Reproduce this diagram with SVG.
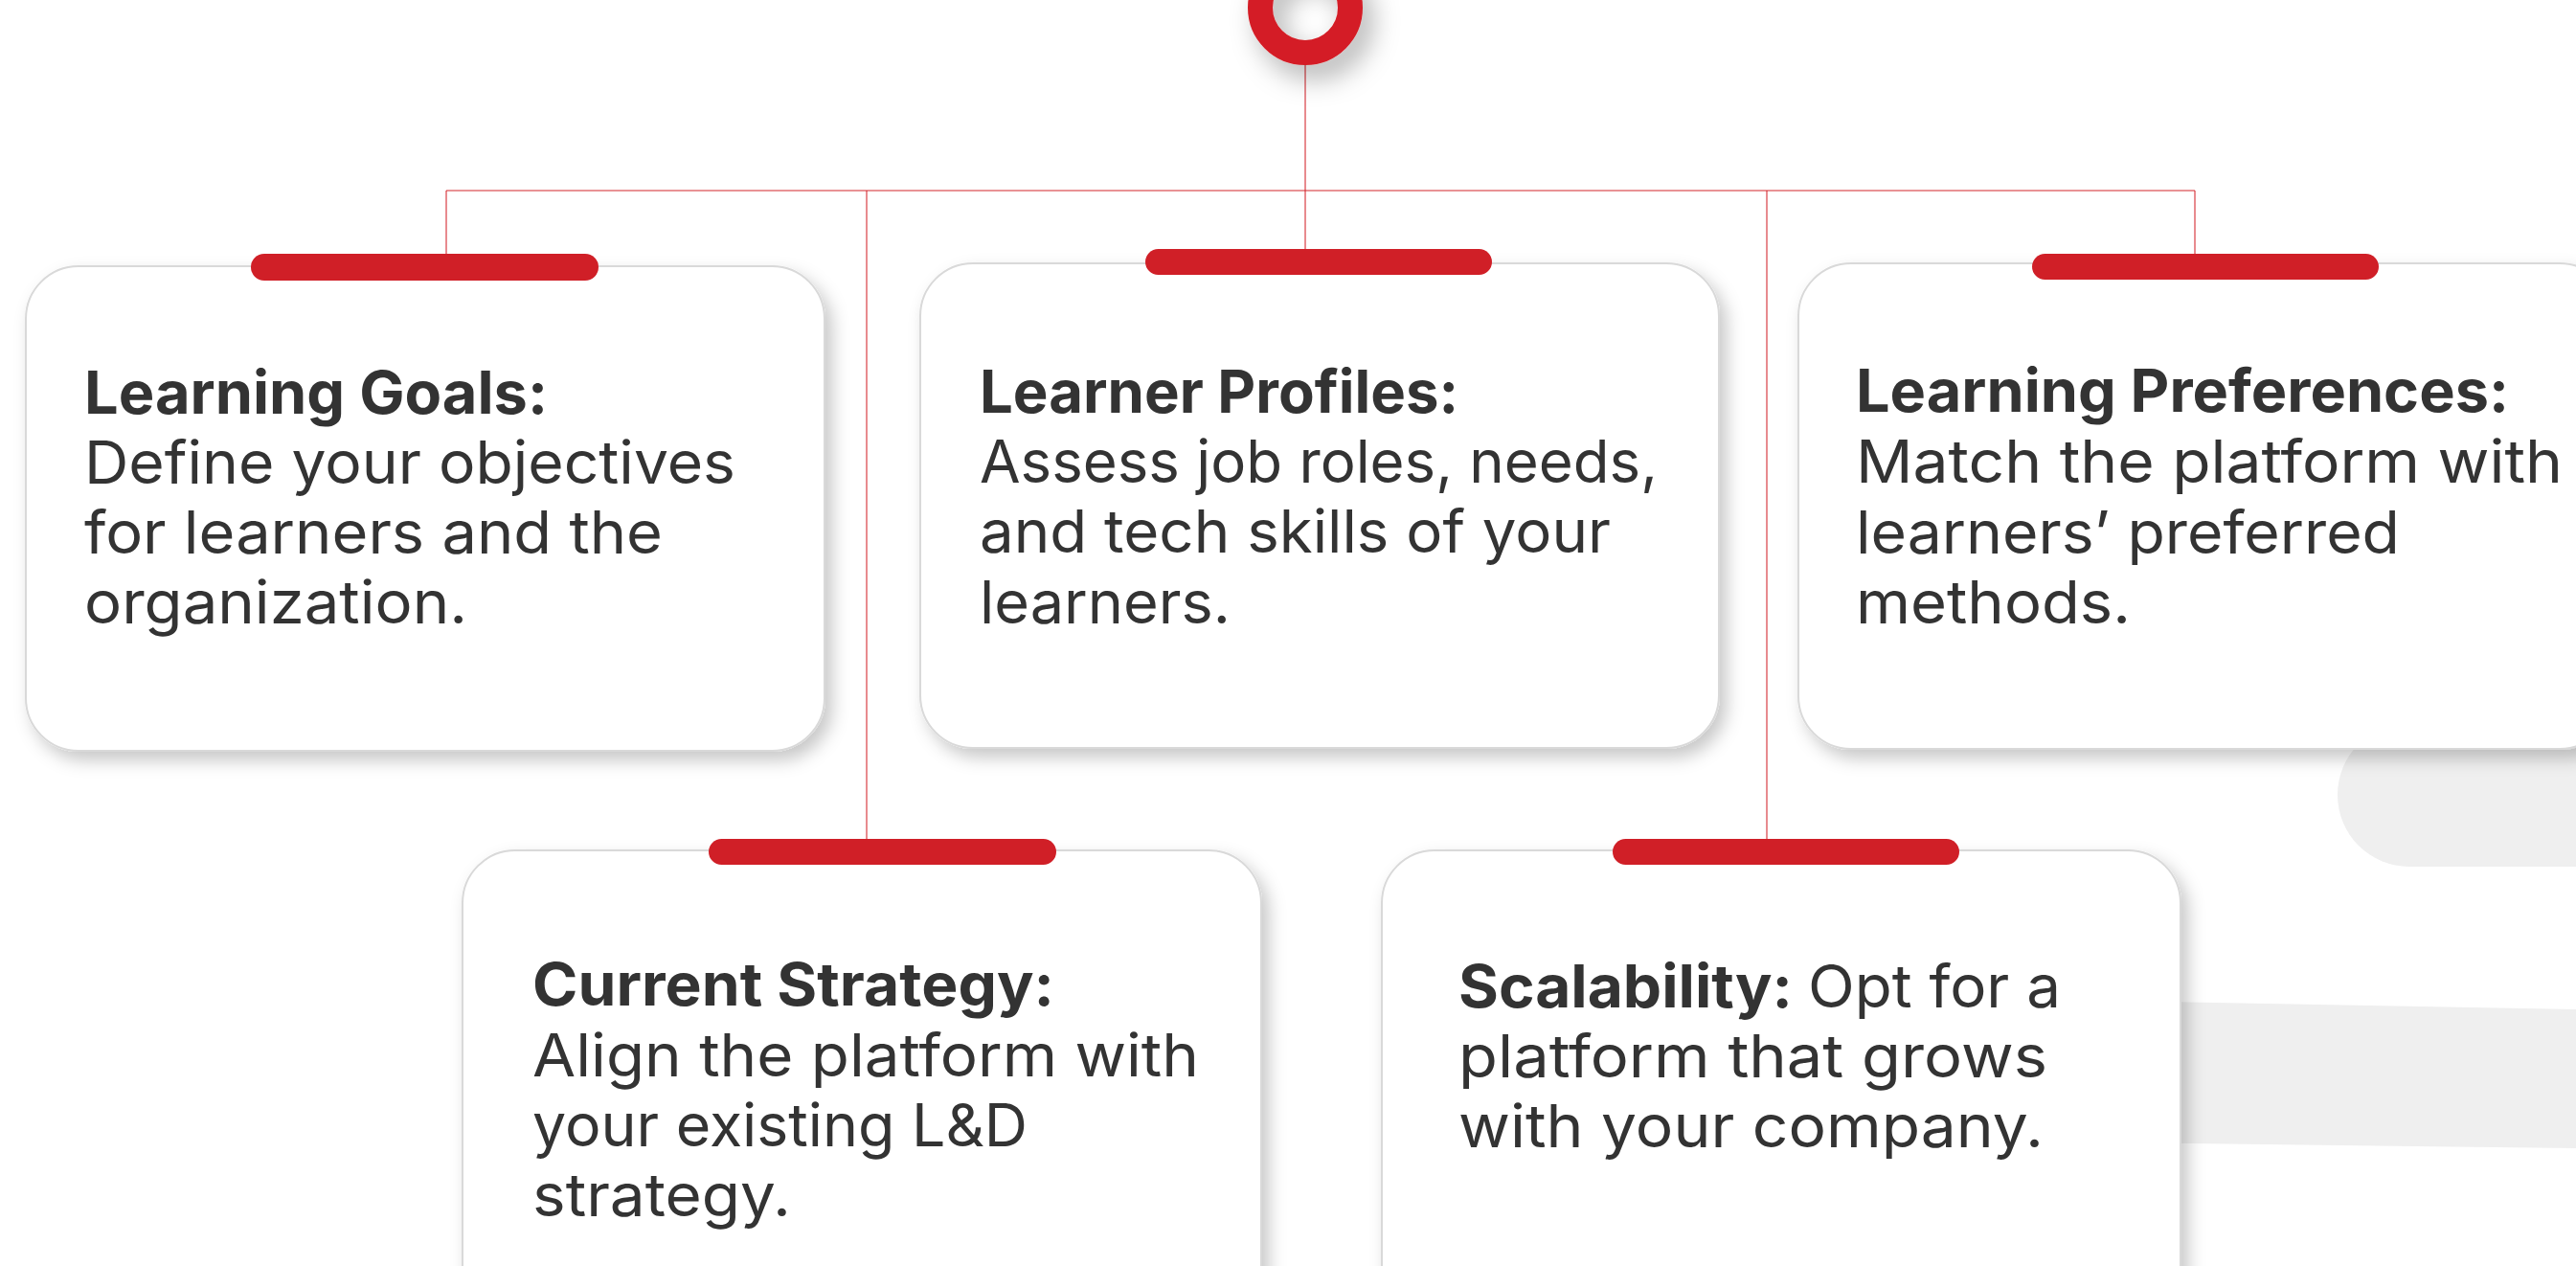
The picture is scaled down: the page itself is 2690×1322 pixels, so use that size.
<svg xmlns="http://www.w3.org/2000/svg" width="2690" height="1322" viewBox="0 0 2690 1322">
<defs>
<filter id="sh" x="-10%" y="-10%" width="125%" height="130%">
<feDropShadow dx="7" dy="9" stdDeviation="9" flood-color="#000" flood-opacity="0.22"/>
</filter>
<filter id="rsh" x="-50%" y="-50%" width="220%" height="220%">
<feDropShadow dx="10" dy="14" stdDeviation="14" flood-color="#000" flood-opacity="0.3"/>
</filter>
<style>
.card{fill:#fff;stroke:#d9d9d9;stroke-width:2;filter:url(#sh)}
.bar{fill:#d01f27}
.ln{stroke:#d31f26;stroke-width:1.6;stroke-opacity:0.65;fill:none}
.t{font-family:Inter,"Liberation Sans",sans-serif;font-size:62px;fill:#333333}
.b{font-weight:700}
.bg{fill:#efefef}
</style>
</defs>
<rect width="2690" height="1322" fill="#ffffff"/>
<g id="background">
<rect class="bg" x="2441" y="755" width="400" height="150" rx="75"/>
<polygon class="bg" points="2200,1045 2690,1054 2690,1199 2200,1193"/>
</g>
<g id="connectors">
<line class="ln" x1="1363" y1="68" x2="1363" y2="261"/>
<line class="ln" x1="466" y1="199" x2="2292" y2="199"/>
<line class="ln" x1="466" y1="199" x2="466" y2="266"/>
<line class="ln" x1="2292" y1="199" x2="2292" y2="266"/>
<line class="ln" x1="905" y1="199" x2="905" y2="877"/>
<line class="ln" x1="1845" y1="199" x2="1845" y2="877"/>
</g>
<g id="hub">
<circle cx="1363" cy="8" r="47" fill="none" stroke="#d41e26" stroke-width="26" filter="url(#rsh)"/>
</g>
<g id="learning-goals">
<rect class="card" x="27" y="278" width="834" height="506" rx="55"/>
<rect class="bar" x="262" y="265" width="363" height="28" rx="14"/>
<text class="t b" x="88" y="432" textLength="484" lengthAdjust="spacingAndGlyphs">Learning Goals:</text>
<text class="t" x="88" y="505" textLength="680" lengthAdjust="spacingAndGlyphs">Define your objectives</text>
<text class="t" x="88" y="578" textLength="604" lengthAdjust="spacingAndGlyphs">for learners and the</text>
<text class="t" x="88" y="651" textLength="400" lengthAdjust="spacingAndGlyphs">organization.</text>
</g>
<g id="learner-profiles">
<rect class="card" x="961" y="275" width="834" height="506" rx="55"/>
<rect class="bar" x="1196" y="260" width="362" height="27" rx="13.5"/>
<text class="t b" x="1023" y="431" textLength="500" lengthAdjust="spacingAndGlyphs">Learner Profiles:</text>
<text class="t" x="1023" y="504" textLength="708" lengthAdjust="spacingAndGlyphs">Assess job roles, needs,</text>
<text class="t" x="1023" y="577" textLength="659" lengthAdjust="spacingAndGlyphs">and tech skills of your</text>
<text class="t" x="1023" y="651" textLength="262" lengthAdjust="spacingAndGlyphs">learners.</text>
</g>
<g id="learning-preferences">
<rect class="card" x="1878" y="275" width="850" height="507" rx="55"/>
<rect class="bar" x="2122" y="265" width="362" height="27" rx="13.5"/>
<text class="t b" x="1938" y="430" textLength="682" lengthAdjust="spacingAndGlyphs">Learning Preferences:</text>
<text class="t" x="1938" y="504" textLength="738" lengthAdjust="spacingAndGlyphs">Match the platform with</text>
<text class="t" x="1938" y="578" textLength="568" lengthAdjust="spacingAndGlyphs">learners’ preferred</text>
<text class="t" x="1938" y="651" textLength="287" lengthAdjust="spacingAndGlyphs">methods.</text>
</g>
<g id="current-strategy">
<rect class="card" x="483" y="888" width="834" height="520" rx="55"/>
<rect class="bar" x="740" y="876" width="363" height="27" rx="13.5"/>
<text class="t b" x="556" y="1050" textLength="545" lengthAdjust="spacingAndGlyphs">Current Strategy:</text>
<text class="t" x="556" y="1124" textLength="696" lengthAdjust="spacingAndGlyphs">Align the platform with</text>
<text class="t" x="556" y="1197" textLength="517" lengthAdjust="spacingAndGlyphs">your existing L&amp;D</text>
<text class="t" x="556" y="1270" textLength="270" lengthAdjust="spacingAndGlyphs">strategy.</text>
</g>
<g id="scalability">
<rect class="card" x="1443" y="888" width="834" height="520" rx="55"/>
<rect class="bar" x="1684" y="876" width="362" height="27" rx="13.5"/>
<text class="t b" x="1523" y="1052" textLength="349" lengthAdjust="spacingAndGlyphs">Scalability:</text>
<text class="t" x="1888" y="1052" textLength="264" lengthAdjust="spacingAndGlyphs">Opt for a</text>
<text class="t" x="1523" y="1125" textLength="615" lengthAdjust="spacingAndGlyphs">platform that grows</text>
<text class="t" x="1523" y="1198" textLength="611" lengthAdjust="spacingAndGlyphs">with your company.</text>
</g>
</svg>
